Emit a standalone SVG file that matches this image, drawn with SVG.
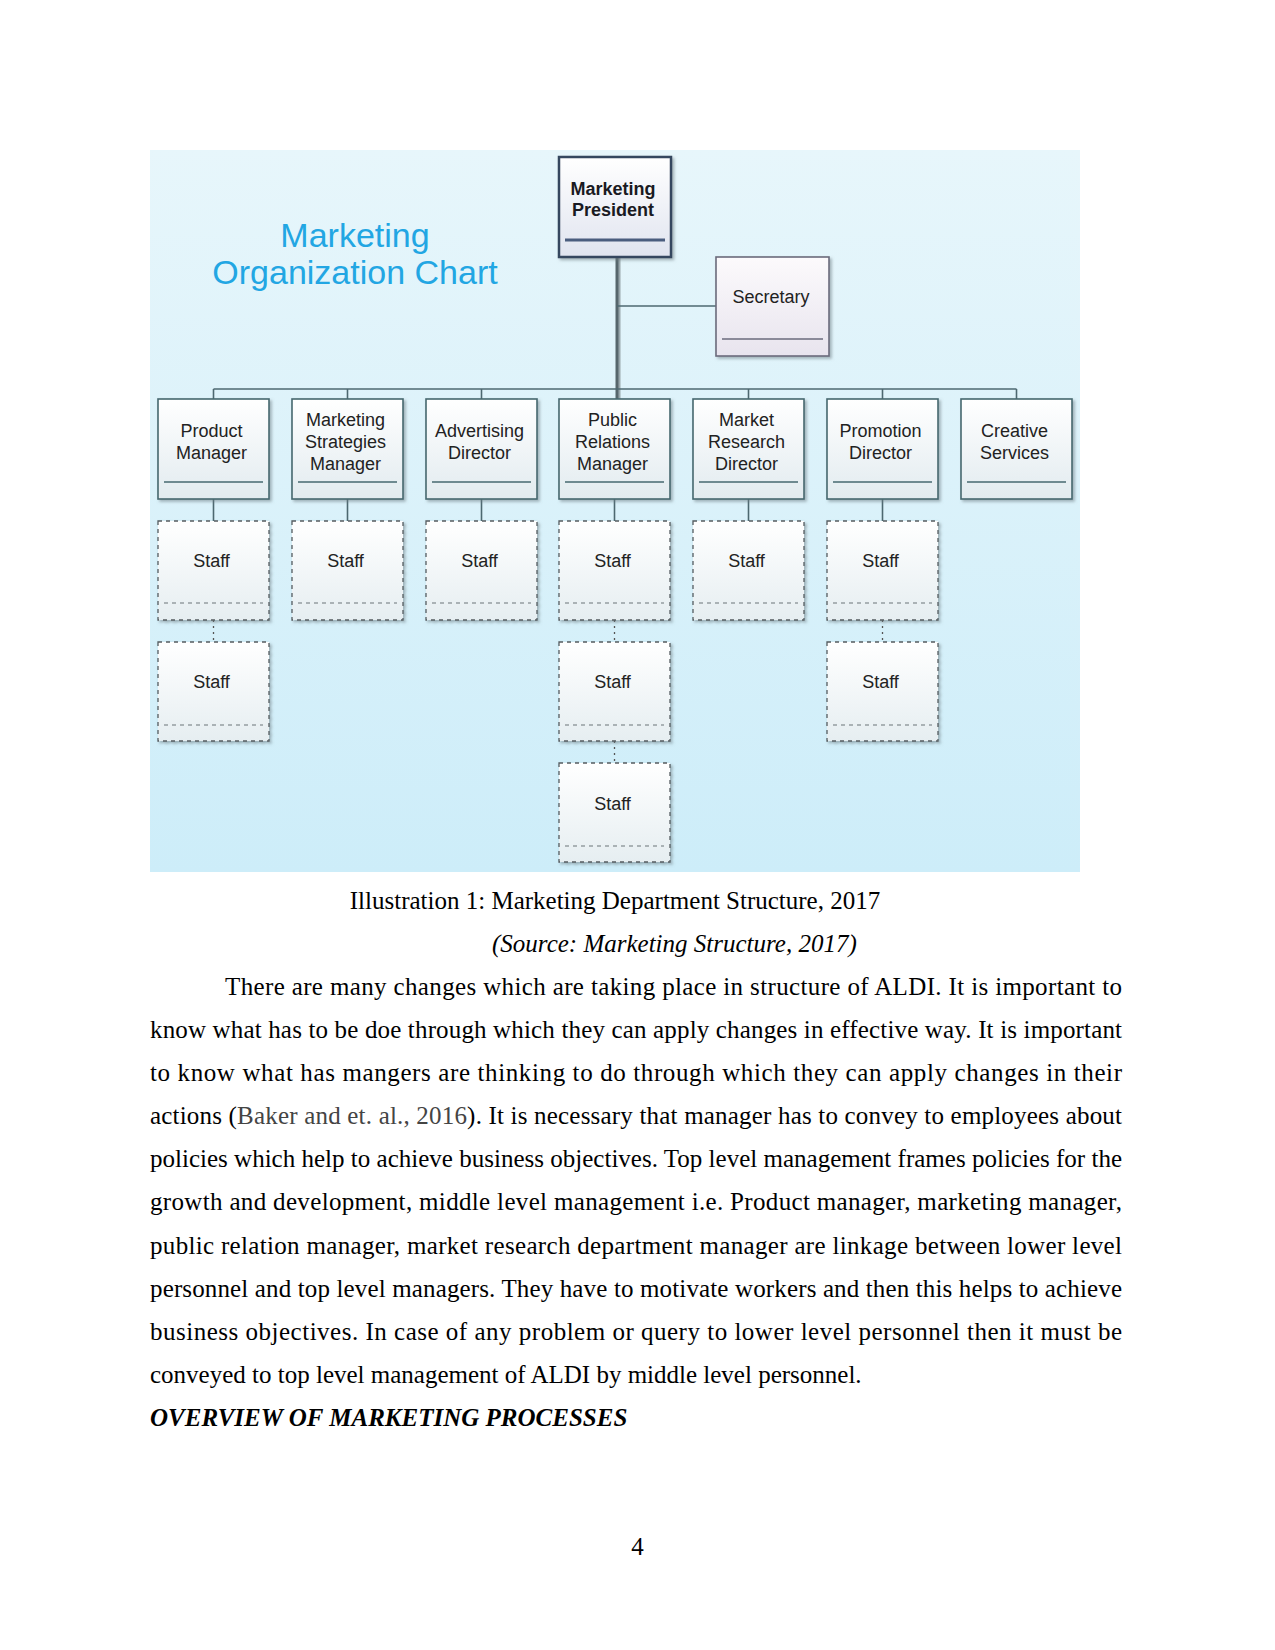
<svg xmlns="http://www.w3.org/2000/svg" width="1275" height="1650" viewBox="0 0 1275 1650">
<defs>
<linearGradient id="bg" x1="0" y1="0" x2="0" y2="1"><stop offset="0" stop-color="#e7f6fb"/><stop offset="1" stop-color="#cdedf9"/></linearGradient>
<linearGradient id="boxfill" x1="0" y1="0" x2="0" y2="1"><stop offset="0" stop-color="#ffffff"/><stop offset="1" stop-color="#e2ebef"/></linearGradient>
<linearGradient id="presfill" x1="0" y1="0" x2="0" y2="1"><stop offset="0" stop-color="#ffffff"/><stop offset="1" stop-color="#e0e4ef"/></linearGradient>
<linearGradient id="secfill" x1="0" y1="0" x2="0" y2="1"><stop offset="0" stop-color="#fcfafc"/><stop offset="1" stop-color="#e8e4ee"/></linearGradient>
<linearGradient id="stafffill" x1="0" y1="0" x2="0" y2="1"><stop offset="0" stop-color="#ffffff"/><stop offset="1" stop-color="#e6eef1"/></linearGradient>
<filter id="sh" x="-10%" y="-10%" width="125%" height="125%"><feDropShadow dx="2" dy="2" stdDeviation="1.5" flood-color="#6d7c82" flood-opacity="0.55"/></filter>
</defs>
<style>
.lbl{font-family:"Liberation Sans",Arial,sans-serif;font-size:18px;fill:#222;text-anchor:middle}
.bold{font-weight:bold;fill:#1a1a22}
.title{font-family:"Liberation Sans",Arial,sans-serif;font-size:34px;fill:#22a6e3;text-anchor:middle}
.mgr{fill:url(#boxfill);stroke:#46686f;stroke-width:1.6}
.uline{stroke:#46686f;stroke-width:1.5}
.staff{fill:url(#stafffill);stroke:#555c60;stroke-width:1.3;stroke-dasharray:4 4}
.sline{stroke:#6a7478;stroke-width:1.2;stroke-dasharray:4 4}
.conn{stroke:#4d6870;stroke-width:1.6;fill:none}
.dot{stroke:#555;stroke-width:1.3;stroke-dasharray:2 4;fill:none}
.body{font-family:"Liberation Serif","Times New Roman",serif;font-size:25px;fill:#000}
</style>
<rect width="1275" height="1650" fill="#ffffff"/>
<rect x="150" y="150" width="930" height="722" fill="url(#bg)"/>
<text class="title" x="355" y="247">Marketing</text>
<text class="title" x="355" y="284">Organization Chart</text>

<g id="connectors">
<line x1="617" y1="257" x2="617" y2="399" stroke="#9aa8ad" stroke-width="3" transform="translate(2,0)"/>
<line x1="617" y1="257" x2="617" y2="399" stroke="#56666c" stroke-width="3"/>
<line class="conn" x1="617" y1="306" x2="716" y2="306"/>
<line class="conn" x1="213.5" y1="389" x2="1016.5" y2="389"/>
<line class="conn" x1="213.5" y1="389" x2="213.5" y2="399"/>
<line class="conn" x1="347.5" y1="389" x2="347.5" y2="399"/>
<line class="conn" x1="481.5" y1="389" x2="481.5" y2="399"/>
<line class="conn" x1="748.5" y1="389" x2="748.5" y2="399"/>
<line class="conn" x1="882.5" y1="389" x2="882.5" y2="399"/>
<line class="conn" x1="1016.5" y1="389" x2="1016.5" y2="399"/>
<line class="conn" x1="213.5" y1="499" x2="213.5" y2="521"/>
<line class="conn" x1="347.5" y1="499" x2="347.5" y2="521"/>
<line class="conn" x1="481.5" y1="499" x2="481.5" y2="521"/>
<line class="conn" x1="614.5" y1="499" x2="614.5" y2="521"/>
<line class="conn" x1="748.5" y1="499" x2="748.5" y2="521"/>
<line class="conn" x1="882.5" y1="499" x2="882.5" y2="521"/>
<line class="dot" x1="213.5" y1="620" x2="213.5" y2="642"/>
<line class="dot" x1="614.5" y1="620" x2="614.5" y2="642"/>
<line class="dot" x1="882.5" y1="620" x2="882.5" y2="642"/>
<line class="dot" x1="614.5" y1="741" x2="614.5" y2="763"/>
</g>

<g id="president">
<rect x="559" y="157" width="112" height="100" fill="url(#presfill)" stroke="#34465e" stroke-width="2.5" filter="url(#sh)"/>
<line x1="565" y1="240" x2="665" y2="240" stroke="#4a5d7e" stroke-width="3"/>
<text class="lbl bold" x="613" y="195">Marketing</text>
<text class="lbl bold" x="613" y="216">President</text>
</g>

<g id="secretary">
<rect x="716" y="257" width="113" height="99" fill="url(#secfill)" stroke="#6b6b7c" stroke-width="1.6" filter="url(#sh)"/>
<line x1="722" y1="339" x2="823" y2="339" stroke="#6b6b7c" stroke-width="1.5"/>
<text class="lbl" x="771" y="303">Secretary</text>
</g>

<g id="product-manager">
<rect class="mgr" x="158" y="399" width="111" height="100" filter="url(#sh)"/>
<line class="uline" x1="164" y1="482" x2="263" y2="482"/>
<text class="lbl" x="211.5" y="437">Product</text>
<text class="lbl" x="211.5" y="459">Manager</text>
</g>
<g id="marketing-strategies-manager">
<rect class="mgr" x="292" y="399" width="111" height="100" filter="url(#sh)"/>
<line class="uline" x1="298" y1="482" x2="397" y2="482"/>
<text class="lbl" x="345.5" y="426">Marketing</text>
<text class="lbl" x="345.5" y="448">Strategies</text>
<text class="lbl" x="345.5" y="470">Manager</text>
</g>
<g id="advertising-director">
<rect class="mgr" x="426" y="399" width="111" height="100" filter="url(#sh)"/>
<line class="uline" x1="432" y1="482" x2="531" y2="482"/>
<text class="lbl" x="479.5" y="437">Advertising</text>
<text class="lbl" x="479.5" y="459">Director</text>
</g>
<g id="public-relations-manager">
<rect class="mgr" x="559" y="399" width="111" height="100" filter="url(#sh)"/>
<line class="uline" x1="565" y1="482" x2="664" y2="482"/>
<text class="lbl" x="612.5" y="426">Public</text>
<text class="lbl" x="612.5" y="448">Relations</text>
<text class="lbl" x="612.5" y="470">Manager</text>
</g>
<g id="market-research-director">
<rect class="mgr" x="693" y="399" width="111" height="100" filter="url(#sh)"/>
<line class="uline" x1="699" y1="482" x2="798" y2="482"/>
<text class="lbl" x="746.5" y="426">Market</text>
<text class="lbl" x="746.5" y="448">Research</text>
<text class="lbl" x="746.5" y="470">Director</text>
</g>
<g id="promotion-director">
<rect class="mgr" x="827" y="399" width="111" height="100" filter="url(#sh)"/>
<line class="uline" x1="833" y1="482" x2="932" y2="482"/>
<text class="lbl" x="880.5" y="437">Promotion</text>
<text class="lbl" x="880.5" y="459">Director</text>
</g>
<g id="creative-services">
<rect class="mgr" x="961" y="399" width="111" height="100" filter="url(#sh)"/>
<line class="uline" x1="967" y1="482" x2="1066" y2="482"/>
<text class="lbl" x="1014.5" y="437">Creative</text>
<text class="lbl" x="1014.5" y="459">Services</text>
</g>

<g id="staff-1-1"><rect class="staff" x="158" y="521" width="111" height="99" filter="url(#sh)"/><line class="sline" x1="164" y1="603" x2="263" y2="603"/><text class="lbl" x="211.5" y="567">Staff</text></g>
<g id="staff-2-1"><rect class="staff" x="292" y="521" width="111" height="99" filter="url(#sh)"/><line class="sline" x1="298" y1="603" x2="397" y2="603"/><text class="lbl" x="345.5" y="567">Staff</text></g>
<g id="staff-3-1"><rect class="staff" x="426" y="521" width="111" height="99" filter="url(#sh)"/><line class="sline" x1="432" y1="603" x2="531" y2="603"/><text class="lbl" x="479.5" y="567">Staff</text></g>
<g id="staff-4-1"><rect class="staff" x="559" y="521" width="111" height="99" filter="url(#sh)"/><line class="sline" x1="565" y1="603" x2="664" y2="603"/><text class="lbl" x="612.5" y="567">Staff</text></g>
<g id="staff-5-1"><rect class="staff" x="693" y="521" width="111" height="99" filter="url(#sh)"/><line class="sline" x1="699" y1="603" x2="798" y2="603"/><text class="lbl" x="746.5" y="567">Staff</text></g>
<g id="staff-6-1"><rect class="staff" x="827" y="521" width="111" height="99" filter="url(#sh)"/><line class="sline" x1="833" y1="603" x2="932" y2="603"/><text class="lbl" x="880.5" y="567">Staff</text></g>
<g id="staff-1-2"><rect class="staff" x="158" y="642" width="111" height="99" filter="url(#sh)"/><line class="sline" x1="164" y1="725" x2="263" y2="725"/><text class="lbl" x="211.5" y="688">Staff</text></g>
<g id="staff-4-2"><rect class="staff" x="559" y="642" width="111" height="99" filter="url(#sh)"/><line class="sline" x1="565" y1="725" x2="664" y2="725"/><text class="lbl" x="612.5" y="688">Staff</text></g>
<g id="staff-6-2"><rect class="staff" x="827" y="642" width="111" height="99" filter="url(#sh)"/><line class="sline" x1="833" y1="725" x2="932" y2="725"/><text class="lbl" x="880.5" y="688">Staff</text></g>
<g id="staff-4-3"><rect class="staff" x="559" y="763" width="111" height="99" filter="url(#sh)"/><line class="sline" x1="565" y1="846" x2="664" y2="846"/><text class="lbl" x="612.5" y="810">Staff</text></g>

<text class="body" x="615" y="909" text-anchor="middle">Illustration 1: Marketing Department Structure, 2017</text>
<text class="body" x="492" y="952" font-style="italic">(Source: Marketing Structure, 2017)</text>
<text class="body" x="225" y="995" textLength="897" lengthAdjust="spacing">There are many changes which are taking place in structure of ALDI. It is important to</text>
<text class="body" x="150" y="1038" textLength="972" lengthAdjust="spacing">know what has to be doe through which they can apply changes in effective way. It is important</text>
<text class="body" x="150" y="1081" textLength="972" lengthAdjust="spacing">to know what has mangers are thinking to do through which they can apply changes in their</text>
<text class="body" x="150" y="1124" textLength="972" lengthAdjust="spacing">actions (<tspan fill="#444">Baker and et. al., 2016</tspan>). It is necessary that manager has to convey to employees about</text>
<text class="body" x="150" y="1167" textLength="972" lengthAdjust="spacing">policies which help to achieve business objectives. Top level management frames policies for the</text>
<text class="body" x="150" y="1210" textLength="972" lengthAdjust="spacing">growth and development, middle level management i.e. Product manager, marketing manager,</text>
<text class="body" x="150" y="1254" textLength="972" lengthAdjust="spacing">public relation manager, market research department manager are linkage between lower level</text>
<text class="body" x="150" y="1297" textLength="972" lengthAdjust="spacing">personnel and top level managers. They have to motivate workers and then this helps to achieve</text>
<text class="body" x="150" y="1340" textLength="972" lengthAdjust="spacing">business objectives. In case of any problem or query to lower level personnel then it must be</text>
<text class="body" x="150" y="1383">conveyed to top level management of ALDI by middle level personnel.</text>
<text class="body" x="150" y="1426" font-weight="bold" font-style="italic">OVERVIEW OF MARKETING PROCESSES</text>
<text class="body" x="637.5" y="1555" text-anchor="middle">4</text>
</svg>
